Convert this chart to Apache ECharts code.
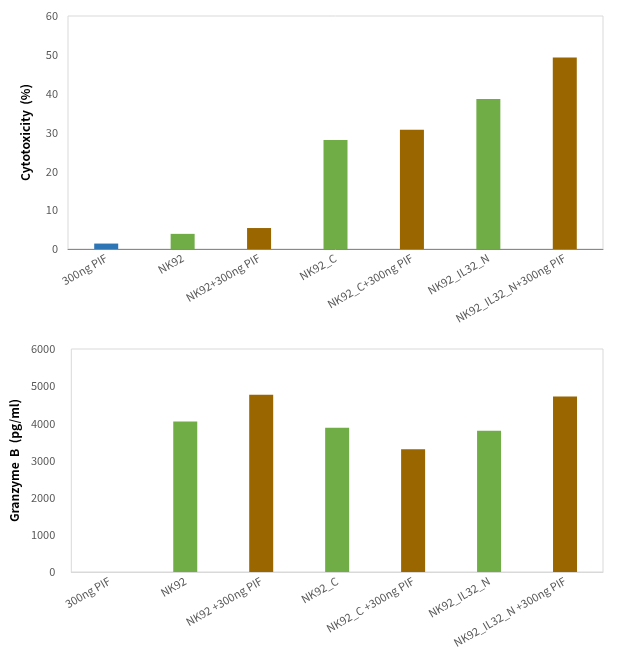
<!DOCTYPE html>
<html><head><meta charset="utf-8">
<script src="https://cdn.jsdelivr.net/npm/echarts@6/dist/echarts.min.js"></script>
<style>html,body{margin:0;padding:0;background:#fff}#c{width:622px;height:660px}</style>
</head><body><div id="c"></div>
<script>
const cats1 = ['300ng PIF','NK92','NK92+300ng PIF','NK92_C','NK92_C+300ng PIF','NK92_IL32_N','NK92_IL32_N+300ng PIF'];
const cats2 = ['300ng PIF','NK92','NK92 +300ng PIF','NK92_C','NK92_C +300ng PIF','NK92_IL32_N','NK92_IL32_N +300ng PIF'];
const cytotoxicity = [1.4, 3.9, 5.4, 28.1, 30.7, 38.6, 49.3];
const granzymeB = [0, 4050, 4770, 3880, 3300, 3800, 4720];
const barColors = ['#2E75B6','#70AD47','#996600','#70AD47','#996600','#70AD47','#996600'];
const font = "'Noto Sans CJK KR','Noto Sans',sans-serif";
const chart = echarts.init(document.getElementById('c'));
const lab = {color:'#595959', fontSize:11, fontFamily:font};
function mk(vals){ return vals.map((v,i)=>({value:v, itemStyle:{color:barColors[i]}})); }
const plain = v => String(v);
chart.setOption({
  animation:false,
  grid:[
    {left:68, top:16, right:19, height:233, show:true, borderColor:'#d9d9d9', borderWidth:1},
    {left:71, top:349, right:19, height:223, show:true, borderColor:'#d9d9d9', borderWidth:1}
  ],
  xAxis:[
    {type:'category', gridIndex:0, data:cats1, axisTick:{show:false},
     axisLine:{lineStyle:{color:'#898989'}},
     axisLabel:Object.assign({rotate:30, interval:0, margin:8}, lab)},
    {type:'category', gridIndex:1, data:cats2, axisTick:{show:false},
     axisLine:{lineStyle:{color:'#d9d9d9'}},
     axisLabel:Object.assign({rotate:30, interval:0, margin:8}, lab)}
  ],
  yAxis:[
    {type:'value', gridIndex:0, min:0, max:60, interval:10, splitLine:{show:false},
     axisLine:{show:false}, axisTick:{show:false},
     axisLabel:Object.assign({margin:10, fontSize:12, formatter:plain}, lab),
     name:'Cytotoxicity  (%)', nameLocation:'middle', nameGap:37,
     nameTextStyle:{fontWeight:'bold', fontSize:12, color:'#000', fontFamily:font}},
    {type:'value', gridIndex:1, min:0, max:6000, interval:1000, splitLine:{show:false},
     axisLine:{show:false}, axisTick:{show:false},
     axisLabel:Object.assign({margin:16, fontSize:12, formatter:plain}, lab),
     name:'Granzyme  B  (pg/ml)', nameLocation:'middle', nameGap:48,
     nameTextStyle:{fontWeight:'bold', fontSize:12, color:'#000', fontFamily:font}}
  ],
  series:[
    {type:'bar', xAxisIndex:0, yAxisIndex:0, data:mk(cytotoxicity), barWidth:24},
    {type:'bar', xAxisIndex:1, yAxisIndex:1, data:mk(granzymeB), barWidth:24}
  ]
});
</script></body></html>
